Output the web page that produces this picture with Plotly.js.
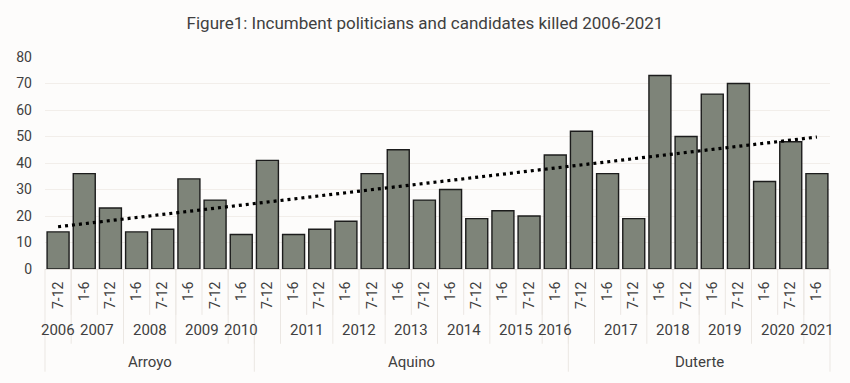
<!DOCTYPE html>
<html>
<head>
<meta charset="utf-8">
<script src="https://cdn.plot.ly/plotly-3.0.1.min.js"></script>
<style>
html,body{margin:0;padding:0;background:#fdfcfb;}
#chart{width:850px;height:383px;}
</style>
</head>
<body>
<div id="chart"></div>
<script>
// ---- data ----
const periods = ['7-12','1-6','7-12','1-6','7-12','1-6','7-12','1-6','7-12','1-6',
                 '7-12','1-6','7-12','1-6','7-12','1-6','7-12','1-6','7-12','1-6',
                 '7-12','1-6','7-12','1-6','7-12','1-6','7-12','1-6','7-12','1-6'];
const years = ['2006','2007','2007','2008','2008','2009','2009','2010','','2011',
               '2011','2012','2012','2013','2013','2014','2014','2015','2015','2016',
               '','2017','2017','2018','2018','2019','2019','2020','2020','2021'];
const presidents = ['Arroyo','Arroyo','Arroyo','Arroyo','Arroyo','Arroyo','Arroyo','Arroyo',
                    'Aquino','Aquino','Aquino','Aquino','Aquino','Aquino','Aquino','Aquino','Aquino','Aquino','Aquino','Aquino',
                    'Duterte','Duterte','Duterte','Duterte','Duterte','Duterte','Duterte','Duterte','Duterte','Duterte'];
const killed = [14,36,23,14,15,34,26,13,41,13,
                15,18,36,45,26,30,19,22,20,43,
                52,36,19,73,50,66,70,33,48,36];
const yTicks = [0,10,20,30,40,50,60,70,80];
const titleText = 'Figure1: Incumbent politicians and candidates killed 2006-2021';

// ---- derived ----
const N = killed.length;
const idx = killed.map((_, i) => i);

// linear trendline (least squares) over the bars, as in the spreadsheet
const xs = idx.map(i => i + 1);
const mx = xs.reduce((a, b) => a + b, 0) / N;
const my = killed.reduce((a, b) => a + b, 0) / N;
let sxy = 0, sxx = 0;
for (let i = 0; i < N; i++) { sxy += (xs[i] - mx) * (killed[i] - my); sxx += (xs[i] - mx) ** 2; }
const slope = sxy / sxx, icpt = my - slope * mx;
const trendX = [0, N - 1];
const trendY = [icpt + slope * 1, icpt + slope * N];

// layout geometry
const M = {l: 44.6, r: 20.4, t: 56.7, b: 113.7};
const plotH = 383 - M.t - M.b;
const px2paperY = px => -px / plotH;

function groups(arr) {
  const out = [];
  let start = 0;
  for (let i = 1; i <= arr.length; i++) {
    if (i === arr.length || arr[i] !== arr[start]) {
      out.push({label: arr[start], start: start, end: i - 1});
      start = i;
    }
  }
  return out;
}
const yearGroups = groups(years);
const presGroups = groups(presidents);

const lineColor = '#ebe7e3';
const shapes = [];
function vline(xPaper, depthPx) {
  shapes.push({type: 'line', xref: 'paper', yref: 'paper', x0: xPaper, x1: xPaper,
               y0: 0, y1: px2paperY(depthPx), line: {color: lineColor, width: 1}, layer: 'below'});
}
// every bar boundary through the period row
for (let i = 1; i < N; i++) vline(i / N, 46);
// year boundaries through the year row
yearGroups.forEach(g => { if (g.start > 0) vline(g.start / N, 75); });
// president boundaries and outer edges through all rows
presGroups.forEach(g => { if (g.start > 0) vline(g.start / N, 103); });
vline(0, 103); vline(1, 103);

const annotations = [];
yearGroups.forEach(g => {
  if (!g.label) return;
  annotations.push({text: g.label, xref: 'x', yref: 'paper', x: (g.start + g.end) / 2, y: 0,
    yshift: -61, showarrow: false, xanchor: 'center', yanchor: 'middle',
    font: {family: 'Roboto, sans-serif', size: 15, color: '#404040'}});
});
presGroups.forEach(g => {
  annotations.push({text: g.label, xref: 'x', yref: 'paper', x: (g.start + g.end) / 2, y: 0,
    yshift: -93, showarrow: false, xanchor: 'center', yanchor: 'middle',
    font: {family: 'Roboto, sans-serif', size: 15, color: '#404040'}});
});

const traces = [
  {type: 'bar', x: idx, y: killed, width: 0.84,
   marker: {color: '#7e8479', line: {color: '#1c1c1c', width: 1.4}},
   hoverinfo: 'y', showlegend: false},
  {type: 'scatter', mode: 'lines', x: trendX, y: trendY,
   line: {color: '#000000', width: 3.2, dash: '3px,4px'}, hoverinfo: 'skip', showlegend: false}
];

const layout = {
  width: 850, height: 383,
  margin: M,
  paper_bgcolor: '#fdfcfb', plot_bgcolor: '#fdfcfb',
  font: {family: 'Roboto, sans-serif', color: '#404040'},
  title: {text: titleText, x: 0.5, xanchor: 'center', y: 0.94, yanchor: 'middle',
          font: {family: 'Roboto, sans-serif', size: 17, color: '#404040'}},
  xaxis: {range: [-0.5, N - 0.5], tickmode: 'array', tickvals: idx, ticktext: periods,
          tickangle: -90, ticks: '', showgrid: false, zeroline: false,
          showline: true, linecolor: '#e3dfdb', linewidth: 1,
          tickfont: {family: 'Roboto, sans-serif', size: 14, color: '#404040'},
          ticklabelstandoff: 6, fixedrange: true},
  yaxis: {range: [0, 80], tickmode: 'array', tickvals: yTicks, ticks: '',
          showgrid: true, gridcolor: '#f2eeea', gridwidth: 1, zeroline: false, showline: false,
          tickfont: {family: 'Roboto, sans-serif', size: 14, color: '#404040'},
          ticklabelstandoff: 12, fixedrange: true},
  shapes: shapes,
  annotations: annotations,
  bargap: 0.16
};

Plotly.newPlot('chart', traces, layout, {displayModeBar: false, staticPlot: true});
</script>
</body>
</html>
